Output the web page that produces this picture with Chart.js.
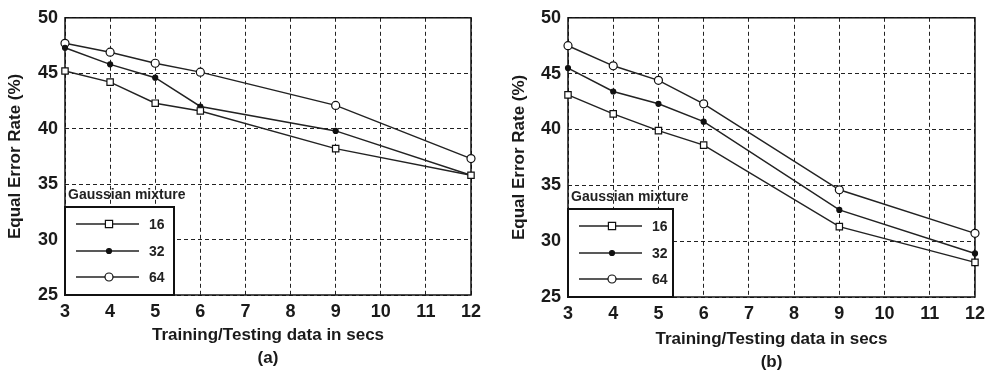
<!DOCTYPE html>
<html>
<head>
<meta charset="utf-8">
<script src="https://cdn.jsdelivr.net/npm/chart.js@4"></script>
<style>
  body { margin: 0; background: #fff; }
  canvas { position: absolute; top: 0; }
  #chartA { left: 0; }
  #chartB { left: 495px; }
</style>
</head>
<body>
<canvas id="chartA" width="495" height="374"></canvas>
<canvas id="chartB" width="496" height="374"></canvas>
<script>
// training/testing duration (secs)
const xSecs = [3, 4, 5, 6, 9, 12];
const mixtures = ["16", "32", "64"];

// panel (a)
const eerA16 = [45.2, 44.2, 42.3, 41.6, 38.2, 35.8];
const eerA32 = [47.3, 45.8, 44.6, 42.0, 39.8, 35.8];
const eerA64 = [47.7, 46.9, 45.9, 45.1, 42.1, 37.3];

// panel (b)
const eerB16 = [43.1, 41.4, 39.9, 38.6, 31.3, 28.1];
const eerB32 = [45.5, 43.4, 42.3, 40.7, 32.8, 28.9];
const eerB64 = [47.5, 45.7, 44.4, 42.3, 34.6, 30.7];

const xMin = 3, xMax = 12;
const yMin = 25, yMax = 50, yStep = 5;

const markerStyles = [
  { pointStyle: "rect", radius: 4.5, bg: "#fff" },
  { pointStyle: "circle", radius: 2.5, bg: "#111" },
  { pointStyle: "circle", radius: 4, bg: "#fff" },
];

const toPoints = (vals) => vals.map((v, i) => ({ x: xSecs[i], y: v }));

// box around the plot area
const framePlugin = {
  id: "frame",
  beforeDatasetsDraw(chart) {
    const { ctx, chartArea: a } = chart;
    ctx.save();
    ctx.strokeStyle = "#111";
    ctx.lineWidth = 1.5;
    ctx.strokeRect(a.left, a.top, a.right - a.left, a.bottom - a.top);
    ctx.restore();
  },
};

// legend box in the lower-left corner, like the matlab one
const legendBoxPlugin = {
  id: "legendBox",
  afterDatasetsDraw(chart, args, opts) {
    const { ctx, chartArea: a } = chart;
    const w = opts.width, h = 88;
    const left = a.left, top = a.bottom - h;
    ctx.save();
    ctx.fillStyle = "#fff";
    ctx.fillRect(left, top, w, h);
    ctx.strokeStyle = "#111";
    ctx.lineWidth = 2;
    ctx.strokeRect(left, top, w, h);

    ctx.fillStyle = "#222";
    ctx.font = "bold 14px 'Liberation Sans', Arial, sans-serif";
    ctx.textBaseline = "middle";
    ctx.fillText("Gaussian mixture", left + 3, top - 12);

    const rows = [h - 71, h - 44, h - 18];
    chart.data.datasets.forEach((ds, i) => {
      const y = top + rows[i];
      ctx.strokeStyle = "#222";
      ctx.lineWidth = 1.5;
      ctx.beginPath();
      ctx.moveTo(left + 11, y);
      ctx.lineTo(left + 74, y);
      ctx.stroke();
      const m = markerStyles[i];
      ctx.fillStyle = m.bg;
      ctx.strokeStyle = "#111";
      ctx.lineWidth = 1.2;
      ctx.beginPath();
      if (m.pointStyle === "rect") {
        ctx.rect(left + 44 - m.radius * 0.8, y - m.radius * 0.8, m.radius * 1.6, m.radius * 1.6);
      } else {
        ctx.arc(left + 44, y, m.radius, 0, Math.PI * 2);
      }
      ctx.fill();
      ctx.stroke();
      ctx.fillStyle = "#222";
      ctx.font = "bold 14px 'Liberation Sans', Arial, sans-serif";
      ctx.fillText(mixtures[i], left + 84, y + 1);
    });
    ctx.restore();
  },
};

function makeChart(id, series, panel, geo) {
  const datasets = series.map((vals, i) => ({
    label: mixtures[i],
    data: toPoints(vals),
    borderColor: "#222",
    borderWidth: 1.5,
    pointStyle: markerStyles[i].pointStyle,
    pointRadius: markerStyles[i].radius,
    pointBackgroundColor: markerStyles[i].bg,
    pointBorderColor: "#111",
    pointBorderWidth: 1.2,
    tension: 0,
    clip: false,
  }));

  const tickFont = { family: "'Liberation Sans', Arial, sans-serif", size: 18, weight: "bold" };
  const titleFont = { family: "'Liberation Sans', Arial, sans-serif", size: 17, weight: "bold" };

  return new Chart(document.getElementById(id), {
    type: "line",
    data: { datasets },
    options: {
      responsive: false,
      animation: false,
      devicePixelRatio: 1,
      layout: { padding: { left: 0, right: geo.right, top: geo.top, bottom: 0 } },
      plugins: {
        legend: { display: false },
        tooltip: { enabled: false },
        legendBox: { width: geo.legendW },
      },
      scales: {
        x: {
          type: "linear",
          min: xMin,
          max: xMax,
          afterFit: (s) => { s.height = geo.xH; },
          afterBuildTicks: (s) => {
            s.ticks = [];
            for (let v = xMin; v <= xMax; v++) s.ticks.push({ value: v });
          },
          ticks: { color: "#1a1a1a", font: tickFont, padding: 6, maxRotation: 0, autoSkip: false },
          grid: { color: "#222", lineWidth: 1, drawTicks: false },
          border: { display: false, dash: [4, 3] },
          title: {
            display: true,
            text: ["Training/Testing data in secs", panel],
            color: "#1a1a1a",
            font: { ...titleFont, lineHeight: 1.35 },
            padding: { top: 0, bottom: geo.titleBottom },
          },
        },
        y: {
          min: yMin,
          max: yMax,
          afterFit: (s) => { s.width = geo.yW; },
          ticks: { stepSize: yStep, color: "#1a1a1a", font: tickFont, padding: 7 },
          grid: { color: "#222", lineWidth: 1, drawTicks: false },
          border: { display: false, dash: [4, 3] },
          title: {
            display: true,
            text: "Equal Error Rate (%)",
            color: "#1a1a1a",
            font: { ...titleFont, lineHeight: 1.2 },
            padding: { top: geo.yTitlePad, bottom: 0 },
          },
        },
      },
    },
    plugins: [framePlugin, legendBoxPlugin],
  });
}

makeChart("chartA", [eerA16, eerA32, eerA64], "(a)",
  { right: 24, top: 16, xH: 79, yW: 65, titleBottom: 4.5, yTitlePad: 5.5, legendW: 109 });
makeChart("chartB", [eerB16, eerB32, eerB64], "(b)",
  { right: 14, top: 15, xH: 77, yW: 73, titleBottom: 0.5, yTitlePad: 14.5, legendW: 105 });
</script>
</body>
</html>
